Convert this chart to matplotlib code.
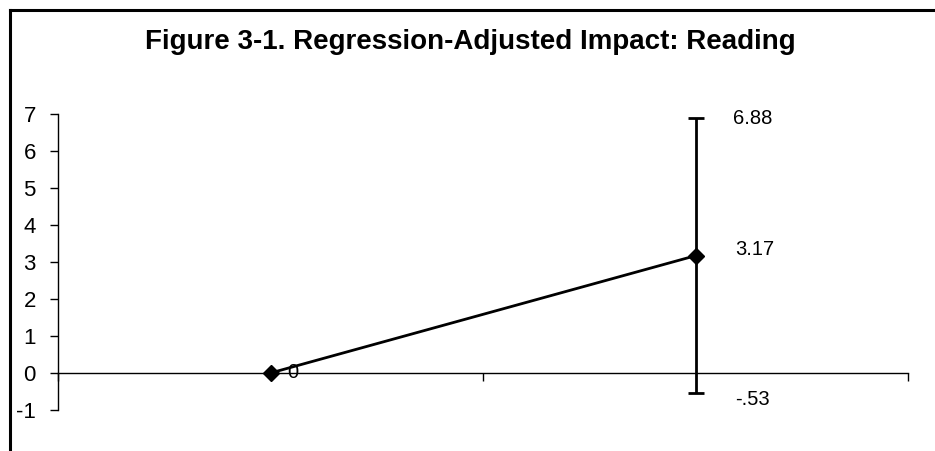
import matplotlib.pyplot as plt
from matplotlib.lines import Line2D

# Data
groups = [1, 2]
impact = [0, 3.17]
upper = [None, 6.88]
lower = [None, -0.53]
point_labels = ['0', '3.17']
y_ticks = [-1, 0, 1, 2, 3, 4, 5, 6, 7]

plt.rcParams['font.family'] = ['Liberation Sans', 'DejaVu Sans']

fig = plt.figure(figsize=(9.35, 4.51), dpi=100)
ax = fig.add_axes([58 / 935, 41 / 451, 850 / 935, 296 / 451])

# Line with diamond markers
ax.plot(groups, impact, color='black', linewidth=2, marker='D', markersize=8, zorder=3)

# Confidence interval for the impact estimate
ci_err = [[impact[1] - lower[1]], [upper[1] - impact[1]]]
ax.errorbar([groups[1]], [impact[1]], yerr=ci_err, fmt='none', ecolor='black',
            elinewidth=2, capsize=5.5, capthick=2, zorder=2)

# Data labels
ax.annotate(point_labels[0], (groups[0], impact[0]), xytext=(16, 0), textcoords='offset points',
            ha='center', va='center', fontsize=14.5)
ax.annotate(point_labels[1], (groups[1], impact[1]), xytext=(43, 4.3), textcoords='offset points',
            ha='center', va='center', fontsize=14.5)
ax.annotate('6.88', (groups[1], upper[1]), xytext=(41, 0), textcoords='offset points',
            ha='center', va='center', fontsize=14.5)
ax.annotate('-.53', (groups[1], lower[1]), xytext=(41, -5.3), textcoords='offset points',
            ha='center', va='center', fontsize=14.5)

ax.set_xlim(0.5, 2.5)
ax.set_ylim(-1, 7)
ax.set_yticks(y_ticks)
ax.set_yticklabels(['-1', '0', '1', '2', '3', '4', '5', '6', '7'], fontsize=16)

# Excel style axes: x axis at zero
for s in ['top', 'right']:
    ax.spines[s].set_visible(False)
ax.spines['bottom'].set_position(('data', 0))
ax.spines['left'].set_linewidth(1)
ax.spines['bottom'].set_linewidth(1)
ax.set_xticks([0.5, 1.5, 2.5])
ax.set_xticklabels([])
ax.tick_params(axis='x', direction='out', length=6, width=1)
ax.tick_params(axis='y', direction='out', length=6, width=1, pad=10)

fig.text(470 / 935, 1 - 42 / 451, 'Figure 3-1. Regression-Adjusted Impact: Reading',
         ha='center', va='center', fontsize=20, fontweight='bold')

# Chart frame (left and top edges visible)
fig.add_artist(Line2D([9.5 / 935, 9.5 / 935], [0, 1 - 9.5 / 451], color='black', linewidth=2.2,
                      transform=fig.transFigure))
fig.add_artist(Line2D([9.5 / 935, 1], [1 - 9.5 / 451, 1 - 9.5 / 451], color='black', linewidth=2.2,
                      transform=fig.transFigure))

fig.savefig('out.png', dpi=100)
